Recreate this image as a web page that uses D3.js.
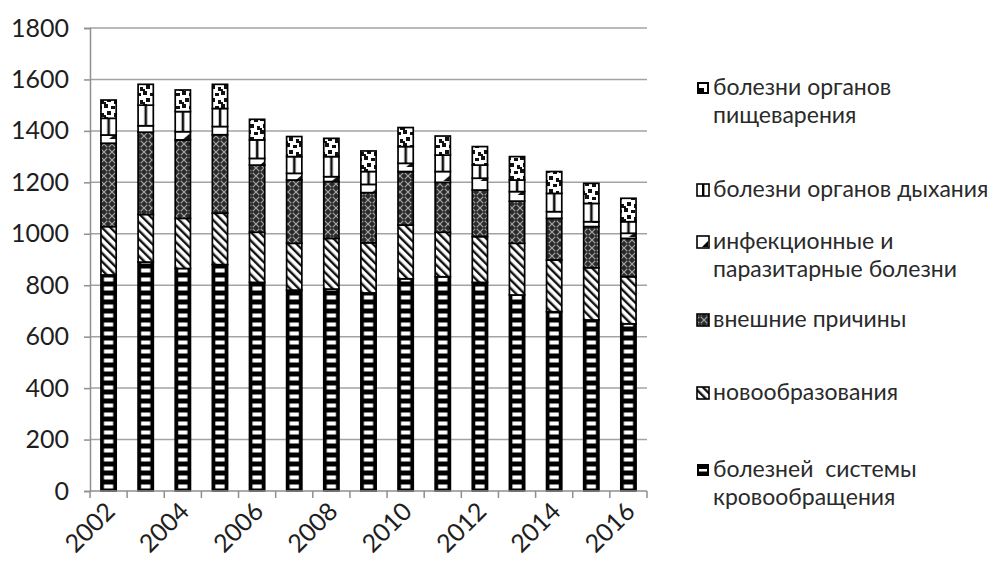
<!DOCTYPE html>
<html>
<head>
<meta charset="utf-8">
<script src="https://cdn.jsdelivr.net/npm/d3@7"></script>
<style>
  html, body { margin: 0; background: #fff; }
  svg { display: block; font-family: Lato, "Open Sans", sans-serif; }
  .legend-text { white-space: pre; }
</style>
</head>
<body>
<svg id="chart" width="992" height="565"></svg>
<script>
// Mortality by cause, 2002–2016 (stacked, bottom to top)
const years = [2002, 2003, 2004, 2005, 2006, 2007, 2008, 2009, 2010, 2011, 2012, 2013, 2014, 2015, 2016];
const circulatory = [840, 890, 865, 880, 811, 781, 785, 770, 825, 833, 811, 762, 697, 665, 650];
const neoplasms   = [188, 185, 195, 200, 195, 182, 197, 195, 209, 173, 178, 201, 201, 203, 183];
const external    = [324, 320, 305, 305, 261, 246, 221, 195, 208, 194, 181, 164, 162, 160, 149];
const infectious  = [32, 25, 32, 32, 26, 26, 19, 32, 32, 42, 46, 37, 26, 19, 20];
const respiratory = [65, 80, 78, 70, 72, 65, 78, 50, 65, 64, 51, 45, 71, 71, 45];
const digestive   = [71, 81, 84, 94, 80, 78, 71, 80, 74, 74, 72, 91, 85, 78, 91];

const seriesKeys = ["circulatory", "neoplasms", "external", "infectious", "respiratory", "digestive"];
const seriesLabels = [
  ["болезней  системы", "кровообращения"],
  ["новообразования"],
  ["внешние причины"],
  ["инфекционные и", "паразитарные болезни"],
  ["болезни органов дыхания"],
  ["болезни органов", "пищеварения"]
];
const yTicks = [0, 200, 400, 600, 800, 1000, 1200, 1400, 1600, 1800];
const xTickLabels = [2002, 2004, 2006, 2008, 2010, 2012, 2014, 2016];

const rows = years.map((yr, i) => ({
  year: yr,
  circulatory: circulatory[i],
  neoplasms: neoplasms[i],
  external: external[i],
  infectious: infectious[i],
  respiratory: respiratory[i],
  digestive: digestive[i]
}));

const svg = d3.select("#chart");
const plot = { left: 90, right: 647, top: 28, bottom: 491 };

const y = d3.scaleLinear().domain([0, 1800]).range([plot.bottom, plot.top]);
const x = d3.scaleBand().domain(years).range([plot.left, plot.right])
  .paddingInner(0.59).paddingOuter(0.295);

const step = x.step();
const bw = x.bandwidth();
const barOff = x(years[0]) - plot.left;

// ---- fill patterns ----
const defs = svg.append("defs");

// horizontal stripes (circulatory), aligned to every bar
const pCirc = defs.append("pattern").attr("id", "p-circ")
  .attr("patternUnits", "userSpaceOnUse")
  .attr("x", plot.left).attr("y", y(0)).attr("width", step).attr("height", 9);
pCirc.append("rect").attr("width", step).attr("height", 9).attr("fill", "#000");
pCirc.append("rect").attr("x", barOff + 3).attr("y", 2.5).attr("width", bw - 6).attr("height", 4).attr("fill", "#fff");

// wide downward diagonal (neoplasms)
const pNeo = defs.append("pattern").attr("id", "p-neo")
  .attr("patternUnits", "userSpaceOnUse").attr("width", 6).attr("height", 6)
  .attr("patternTransform", "rotate(-45)");
pNeo.append("rect").attr("width", 6).attr("height", 6).attr("fill", "#fff");
pNeo.append("rect").attr("width", 2.4).attr("height", 6).attr("fill", "#111");

// dark lattice (external causes)
const pExt = defs.append("pattern").attr("id", "p-ext")
  .attr("patternUnits", "userSpaceOnUse").attr("width", 8).attr("height", 8);
pExt.append("rect").attr("width", 8).attr("height", 8).attr("fill", "#2b2b2b");
pExt.append("path").attr("d", "M0,0L8,8M8,0L0,8").attr("stroke", "#a5a5a5").attr("stroke-width", 1.2);
pExt.append("circle").attr("cx", 4).attr("cy", 4).attr("r", 0.9).attr("fill", "#000");

// mostly white with a small dark notch (infectious)
const pInf = defs.append("pattern").attr("id", "p-inf")
  .attr("patternUnits", "userSpaceOnUse")
  .attr("x", plot.left).attr("y", 0).attr("width", step).attr("height", 14);
pInf.append("rect").attr("width", step).attr("height", 14).attr("fill", "#fff");
pInf.append("path")
  .attr("d", `M${barOff + bw - 7},13L${barOff + bw},7L${barOff + bw},13Z`)
  .attr("fill", "#111");

// white with a vertical line (respiratory)
const pResp = defs.append("pattern").attr("id", "p-resp")
  .attr("patternUnits", "userSpaceOnUse")
  .attr("x", plot.left).attr("y", 0).attr("width", step).attr("height", 10);
pResp.append("rect").attr("width", step).attr("height", 10).attr("fill", "#fff");
pResp.append("rect").attr("x", barOff + bw * 0.42).attr("width", 2.6).attr("height", 10).attr("fill", "#111");

// confetti blobs (digestive)
const pDig = defs.append("pattern").attr("id", "p-dig")
  .attr("patternUnits", "userSpaceOnUse").attr("width", 13).attr("height", 13);
pDig.append("rect").attr("width", 13).attr("height", 13).attr("fill", "#fff");
[[0, 0, 4, 4], [7, 2, 4, 3], [3, 7, 4, 4], [10, 9, 3, 4], [0, 11, 2, 2]].forEach(r =>
  pDig.append("rect").attr("x", r[0]).attr("y", r[1]).attr("width", r[2]).attr("height", r[3]).attr("fill", "#111"));

const fills = {
  circulatory: "url(#p-circ)",
  neoplasms: "url(#p-neo)",
  external: "url(#p-ext)",
  infectious: "url(#p-inf)",
  respiratory: "url(#p-resp)",
  digestive: "url(#p-dig)"
};

// ---- gridlines ----
svg.append("g").selectAll("line")
  .data(yTicks.filter(d => d > 0))
  .join("line")
  .attr("x1", plot.left).attr("x2", plot.right)
  .attr("y1", d => y(d)).attr("y2", d => y(d))
  .attr("stroke", "#a3a3a3").attr("stroke-width", 1.5);

// ---- y axis ----
const yAxis = svg.append("g")
  .attr("transform", `translate(${plot.left},0)`)
  .call(d3.axisLeft(y).tickValues(yTicks).tickSize(6).tickPadding(15).tickFormat(d => d));
yAxis.select(".domain").attr("stroke", "#8f8f8f").attr("stroke-width", 1.5);
yAxis.selectAll(".tick line").attr("stroke", "#8f8f8f").attr("stroke-width", 1.5);
yAxis.selectAll("text").attr("font-size", 25).attr("fill", "#1e1e1e")
  .attr("font-family", "Lato, 'Open Sans', sans-serif");

// ---- stacked bars ----
const stacked = d3.stack().keys(seriesKeys)(rows);
svg.append("g").selectAll("g")
  .data(stacked)
  .join("g")
  .attr("fill", s => fills[s.key])
  .selectAll("rect")
  .data(s => s)
  .join("rect")
  .attr("x", d => x(d.data.year))
  .attr("y", d => y(d[1]))
  .attr("width", bw)
  .attr("height", d => y(d[0]) - y(d[1]))
  .attr("stroke", "#000")
  .attr("stroke-width", 1.7);

// ---- x axis ----
const xAxis = svg.append("g");
xAxis.append("line")
  .attr("x1", plot.left).attr("x2", plot.right)
  .attr("y1", y(0)).attr("y2", y(0))
  .attr("stroke", "#8f8f8f").attr("stroke-width", 1.5);
const tickXs = years.map(d => x(d) - step * x.paddingInner() / 2).concat([plot.right]);
xAxis.selectAll("line.tick")
  .data(tickXs)
  .join("line")
  .attr("class", "tick")
  .attr("x1", d => d).attr("x2", d => d)
  .attr("y1", y(0)).attr("y2", y(0) + 7)
  .attr("stroke", "#8f8f8f").attr("stroke-width", 1.5);
xAxis.selectAll("text")
  .data(xTickLabels)
  .join("text")
  .attr("transform", d => `translate(${x(d) + bw / 2 + 8},${y(0) + 22}) rotate(-45)`)
  .attr("text-anchor", "end")
  .attr("font-size", 25)
  .attr("fill", "#1e1e1e")
  .text(d => d);

// ---- legend (listed top to bottom in reverse stack order) ----
const legendX = 697;
const legendLineCenters = { digestive: 88, respiratory: 190, infectious: 242, external: 320, neoplasms: 393, circulatory: 470 };
const lineGap = 28;
const legend = svg.append("g");
seriesKeys.forEach((key, i) => {
  const cy = legendLineCenters[key];
  const g = legend.append("g");
  const sx = legendX, sy = cy - 6;
  if (key === "circulatory") {
    g.append("rect").attr("x", sx).attr("y", sy).attr("width", 12).attr("height", 12).attr("fill", "#000");
    g.append("rect").attr("x", sx + 2).attr("y", sy + 5).attr("width", 8).attr("height", 2.5).attr("fill", "#fff");
  } else if (key === "respiratory") {
    g.append("rect").attr("x", sx).attr("y", sy).attr("width", 12).attr("height", 12)
      .attr("fill", "#fff").attr("stroke", "#000").attr("stroke-width", 1.6);
    g.append("rect").attr("x", sx + 5).attr("y", sy).attr("width", 2.4).attr("height", 12).attr("fill", "#000");
  } else if (key === "infectious") {
    g.append("rect").attr("x", sx).attr("y", sy).attr("width", 12).attr("height", 12)
      .attr("fill", "#fff").attr("stroke", "#000").attr("stroke-width", 1.6);
    g.append("path").attr("d", `M${sx + 5},${sy + 11}L${sx + 11},${sy + 5}L${sx + 11},${sy + 11}Z`).attr("fill", "#000");
  } else if (key === "digestive") {
    g.append("rect").attr("x", sx).attr("y", sy).attr("width", 12).attr("height", 12).attr("fill", "#000");
    g.append("path").attr("d", `M${sx + 2},${sy + 2}h8v8h-3v-4h-5Z`).attr("fill", "#fff");
  } else {
    g.append("rect").attr("x", sx).attr("y", sy).attr("width", 12).attr("height", 12)
      .attr("fill", fills[key]).attr("stroke", "#000").attr("stroke-width", 1.6);
  }
  seriesLabels[i].forEach((line, j) => {
    legend.append("text")
      .attr("class", "legend-text")
      .attr("x", legendX + 16)
      .attr("y", cy + 7 + j * lineGap)
      .attr("font-size", 23)
      .attr("fill", "#2a2a2a")
      .text(line);
  });
});
</script>
</body>
</html>
